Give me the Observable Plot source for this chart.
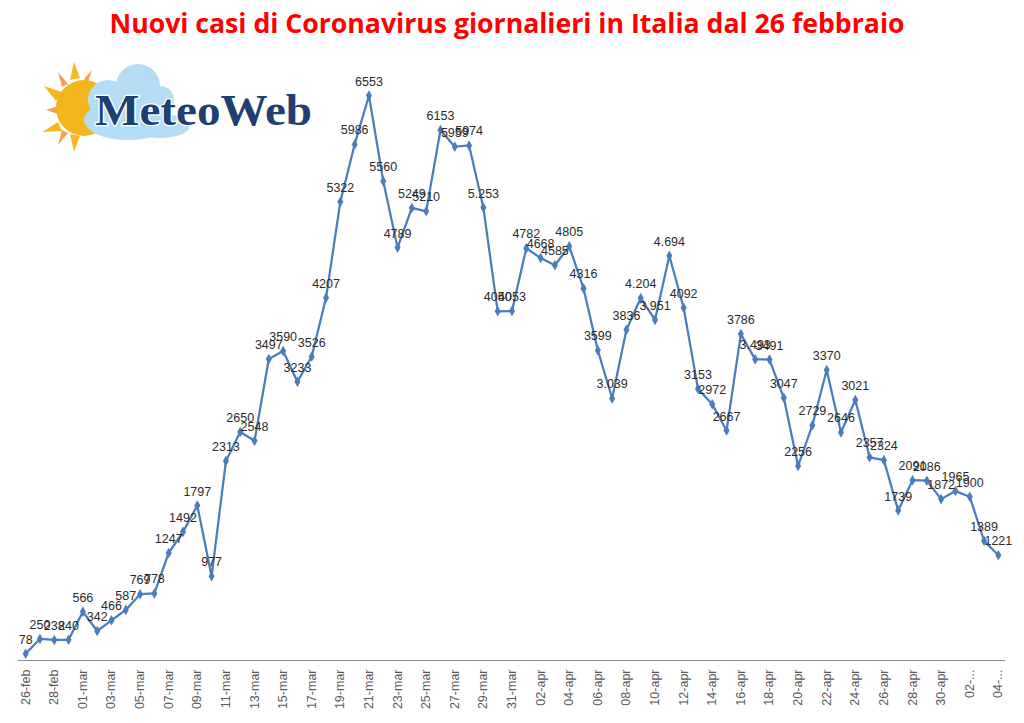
<!DOCTYPE html>
<html>
<head>
<meta charset="utf-8">
<script src="https://cdn.jsdelivr.net/npm/d3@7"></script>
<script src="https://cdn.jsdelivr.net/npm/@observablehq/plot@0.6"></script>
<style>
  html, body { margin: 0; padding: 0; background: #fff; }
  #wrap { position: relative; width: 1024px; height: 723px; overflow: hidden; }
  #title { display: block; width: 1024px; height: 45px; }
  #logo { position: absolute; left: 0; top: 0; width: 340px; height: 160px; }
  #chart svg { display: block; }
</style>
</head>
<body>
<div id="wrap">
  <svg id="title" width="1024" height="45">
    <text x="507" y="33" text-anchor="middle" fill="#ff0000" font-family="'Open Sans', 'Noto Sans', sans-serif" font-weight="700" font-size="26" textLength="795" lengthAdjust="spacingAndGlyphs">Nuovi casi di Coronavirus giornalieri in Italia dal 26 febbraio</text>
  </svg>
  <div id="chart"></div>
  <svg id="logo" width="340" height="160">
    <g fill="#f5b820">
      <polygon points="74,62 80,78 70,80"/>
      <polygon points="44,86 62,92 56,101"/>
      <polygon points="42,132 58,122 62,131"/>
      <polygon points="74,152 70,134 80,136"/>
    </g>
    <g fill="#f5a05a">
      <polygon points="58,72 68,84 62,87"/>
      <polygon points="46,110 58,106 58,114"/>
      <polygon points="58,145 62,130 68,133"/>
      <polygon points="92,70 88,82 84,79"/>
    </g>
    <circle cx="84" cy="108" r="28" fill="#f2b51c"/>
    <g fill="#b4ddf5">
      <circle cx="108" cy="100" r="20"/>
      <circle cx="138" cy="86" r="22"/>
      <circle cx="160" cy="100" r="14"/>
      <ellipse cx="128" cy="120" rx="44" ry="20"/>
      <ellipse cx="160" cy="126" rx="30" ry="12"/>
    </g>
    <text x="95" y="125" font-family="'Liberation Serif', 'DejaVu Serif', serif" font-weight="700" font-size="44" fill="#1d3f72" stroke="#ffffff" stroke-width="2.5" paint-order="stroke" textLength="217" lengthAdjust="spacingAndGlyphs">MeteoWeb</text>
  </svg>
</div>
<script>
// Daily new cases, 26 Feb – 4 May
const values = [78, 250, 238, 240, 566, 342, 466, 587, 769, 778,
  1247, 1492, 1797, 977, 2313, 2650, 2548, 3497, 3590, 3233,
  3526, 4207, 5322, 5986, 6553, 5560, 4789, 5249, 5210, 6153,
  5959, 5974, 5253, 4050, 4053, 4782, 4668, 4585, 4805, 4316,
  3599, 3039, 3836, 4204, 3951, 4694, 4092, 3153, 2972, 2667,
  3786, 3493, 3491, 3047, 2256, 2729, 3370, 2646, 3021, 2357,
  2324, 1739, 2091, 2086, 1872, 1965, 1900, 1389, 1221];

const pointLabels = ["78", "250", "238", "240", "566", "342", "466", "587", "769", "778",
  "1247", "1492", "1797", "977", "2313", "2650", "2548", "3497", "3590", "3233",
  "3526", "4207", "5322", "5986", "6553", "5560", "4789", "5249", "5210", "6153",
  "5959", "5974", "5.253", "4050", "4053", "4782", "4668", "4585", "4805", "4316",
  "3599", "3.039", "3836", "4.204", "3.951", "4.694", "4092", "3153", "2972", "2667",
  "3786", "3.493", "3491", "3047", "2256", "2729", "3370", "2646", "3021", "2357",
  "2324", "1739", "2091", "2086", "1872", "1965", "1900", "1389", "1221"];

// One tick label every second day
const tickLabels = ["26-feb", "28-feb", "01-mar", "03-mar", "05-mar", "07-mar", "09-mar",
  "11-mar", "13-mar", "15-mar", "17-mar", "19-mar", "21-mar", "23-mar", "25-mar",
  "27-mar", "29-mar", "31-mar", "02-apr", "04-apr", "06-apr", "08-apr", "10-apr",
  "12-apr", "14-apr", "16-apr", "18-apr", "20-apr", "22-apr", "24-apr", "26-apr",
  "28-apr", "30-apr", "02-...", "04-..."];

const data = values.map((v, i) => ({i, v, label: pointLabels[i]}));
const tickPositions = tickLabels.map((_, k) => k * 2);

const blue = "#4a7ebb";
const chart = Plot.plot({
  width: 1024,
  height: 678,
  marginLeft: 18,
  marginRight: 19,
  marginTop: 11.5,
  marginBottom: 63,
  style: {fontFamily: "'Liberation Sans', Arial, sans-serif", background: "#fff"},
  x: {type: "linear", domain: [-0.5, values.length - 0.5]},
  y: {domain: [0, 7000], axis: null},
  marks: [
    Plot.axisX(tickPositions, {
      tickFormat: (d) => tickLabels[d / 2],
      tickRotate: -90,
      tickSize: 0,
      tickPadding: 9,
      fontSize: 12.5,
      fill: "#595959",
      label: null
    }),
    Plot.ruleY([0], {stroke: "#8c8c8c", strokeWidth: 1}),
    Plot.line(data, {x: "i", y: "v", stroke: blue, strokeWidth: 2.25}),
    Plot.dot(data, {x: "i", y: "v", symbol: "diamond", r: 3.2, fill: blue, stroke: null}),
    Plot.text(data, {x: "i", y: "v", text: "label", dy: -14, fontSize: 12.5, fill: "#2b2b2b"})
  ]
});
document.getElementById("chart").appendChild(chart);
</script>
</body>
</html>
